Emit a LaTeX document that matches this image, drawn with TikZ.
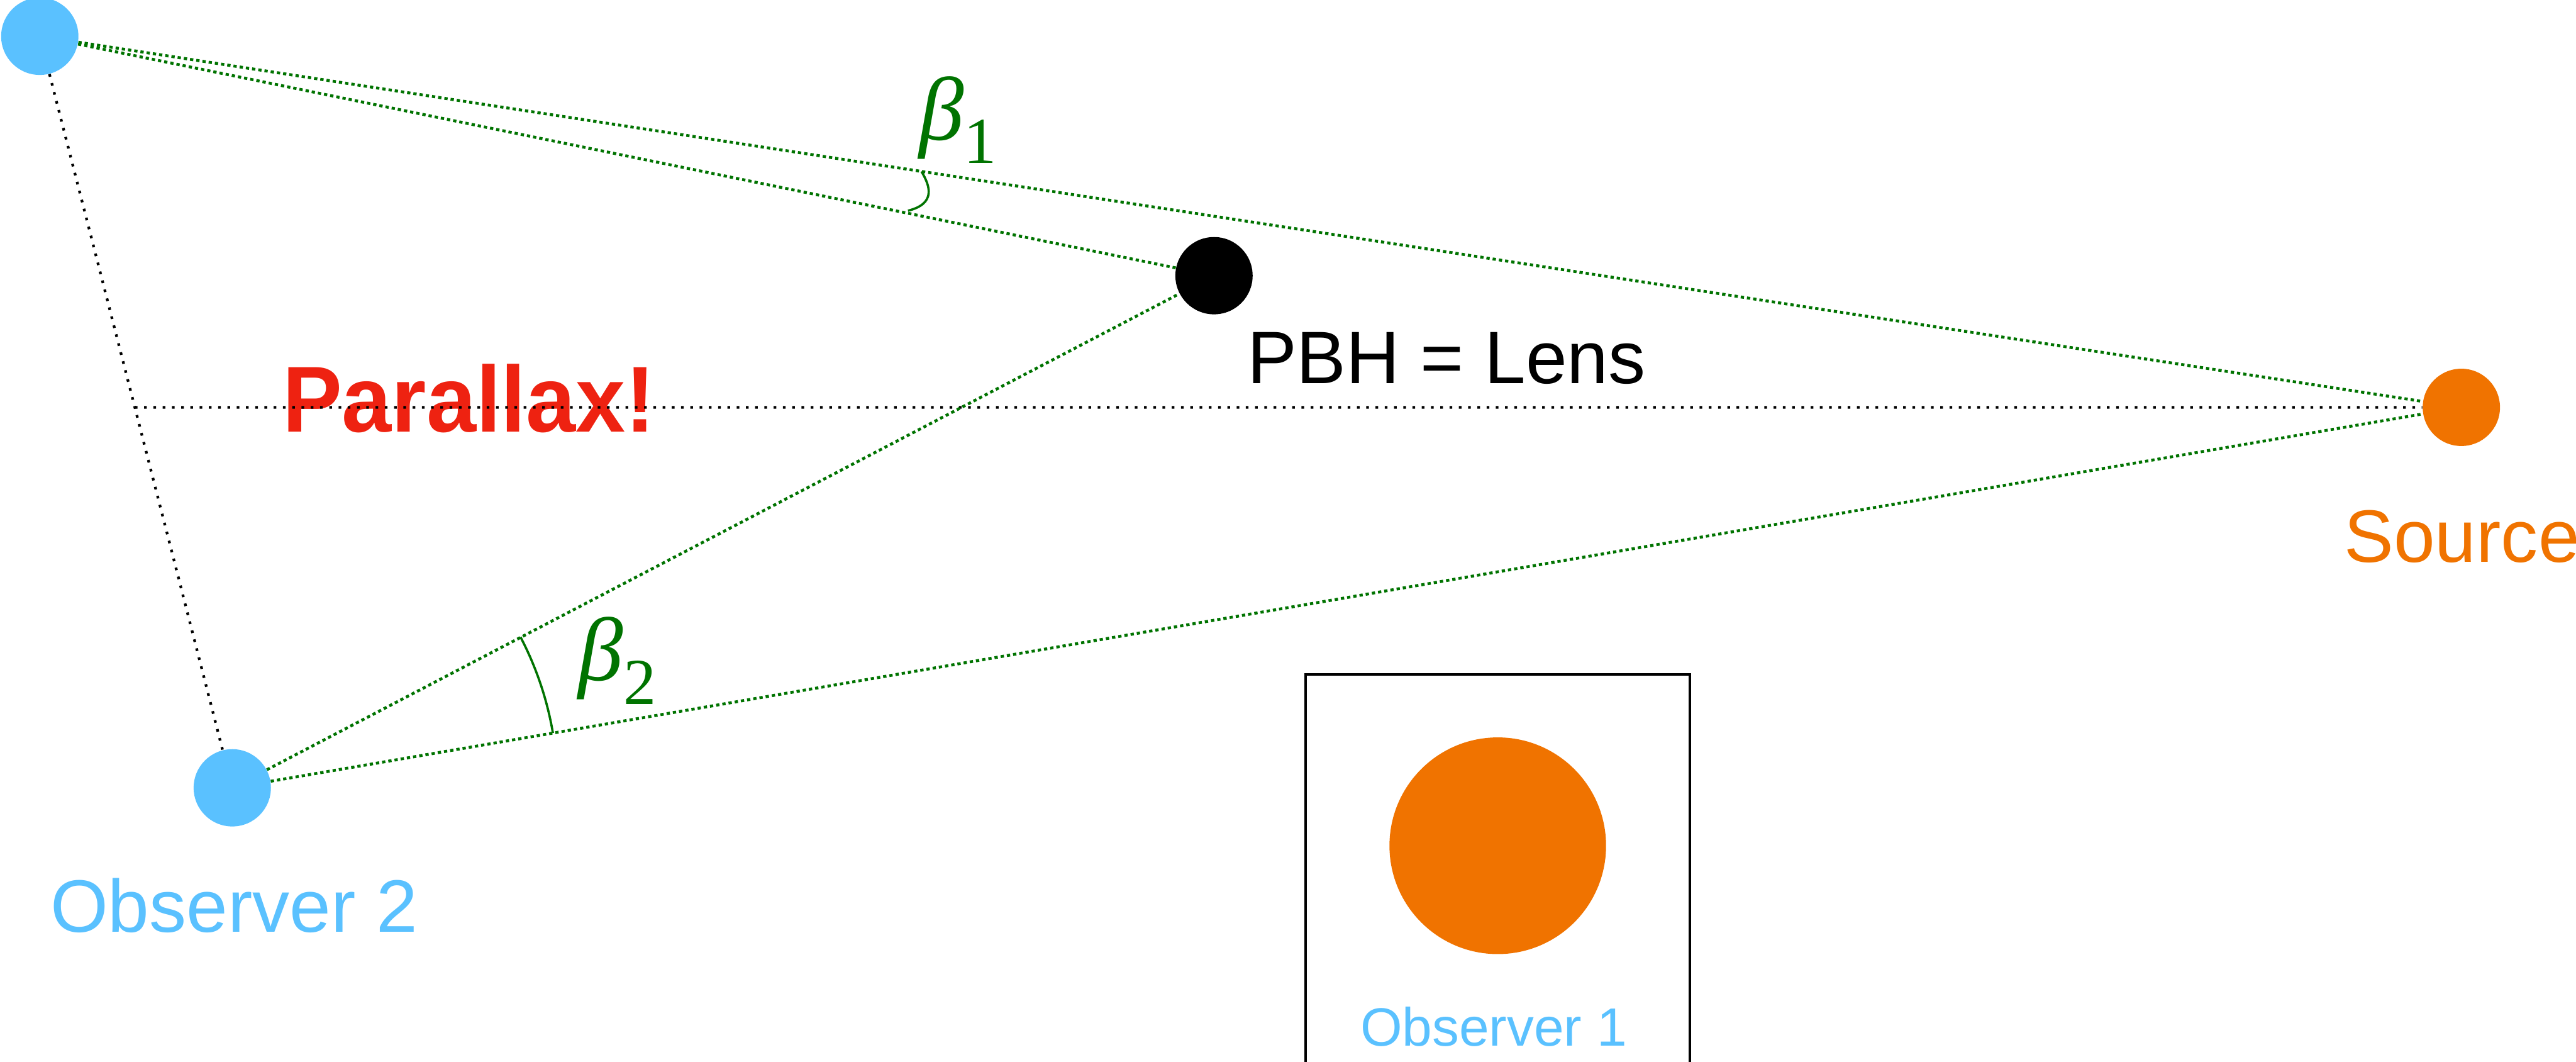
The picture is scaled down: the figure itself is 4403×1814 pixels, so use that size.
\documentclass[tikz,border=0pt]{standalone}
\usepackage{fontspec}
\usepackage{graphicx}
\setmainfont{Liberation Sans}
\newfontfamily\tnr{Liberation Serif}
\usetikzlibrary{calc}
\definecolor{obsblue}{RGB}{90,193,255}
\definecolor{srcorange}{RGB}{240,115,0}
\definecolor{lgreen}{RGB}{0,115,0}
\definecolor{plxred}{RGB}{238,34,17}
\newcommand{\betalab}[1]{{\tnr\itshape\fontsize{43.8}{48}\selectfont β}{\tnr\fontsize{31.9}{35}\selectfont\raisebox{-0.4cm}{#1}}}
\begin{document}
\begin{tikzpicture}[x=0.01cm,y=-0.01cm,
  body/.style={circle,inner sep=0pt,minimum size=1.32cm},
  greendot/.style={draw=lgreen,line width=1.4pt,dash pattern=on 1.6pt off 1.45pt},
  blackdot/.style={draw=black,line width=1.3pt,dash pattern=on 1.3pt off 3.2pt},
  anglearc/.style={draw=lgreen,line width=1.1pt},
  lbl/.style={inner sep=0pt,font=\fontsize{36.1}{40}\selectfont}]
\useasboundingbox (0,0) rectangle (4403,1814);
% bodies
\node[body,fill=obsblue] (o1) at (68,62) {};
\node[body,fill=obsblue] (o2) at (397,1346) {};
\node[body,fill=black] (lens) at (2075,471) {};
\node[body,fill=srcorange] (src) at (4207,696) {};
% labels
\node[lbl,anchor=base west,text=plxred,font=\fontsize{45.5}{50}\selectfont\bfseries] (plx) at (482,738) {\scalebox{0.955}[1]{Parallax!}};
\node[lbl,anchor=base west] (lenslbl) at (2131,655) {PBH = Lens};
\node[lbl,anchor=base,text=srcorange] (srclbl) at (4208,960) {Source};
\node[lbl,anchor=base,text=obsblue] (o2lbl) at (400,1592) {Observer 2};
% lines
\coordinate (mid) at ($(o1.center)!0.4938!(o2.center)$);
\draw[blackdot] (o1) -- (o2);
\draw[blackdot] (mid) -- (src);
\draw[greendot] (o1) -- (src);
\draw[greendot] (o1) -- (lens);
\draw[greendot] (o2) -- (lens);
\draw[greendot] (o2) -- (src);
% angles
\coordinate (a1s) at (1575,293);
\coordinate (a1e) at (1552,360);
\draw[anglearc] (a1s) .. controls (1590,318) and (1600,348) .. (a1e);
\draw[anglearc] ([shift={(-27.6:556)}]o2.center) arc[start angle=-27.6,end angle=-9.7,radius=556];
\node[anchor=base west,inner sep=0pt,text=lgreen] (b1) at (1570,239) {\betalab{1}};
\node[anchor=base west,inner sep=0pt,text=lgreen] (b2) at (988,1163) {\betalab{2}};
% observer 1 view
\draw[line width=1.2pt] (2232,1830) -- (2232,1152) -- (2888,1152) -- (2888,1830);
\node[circle,inner sep=0pt,minimum size=3.7cm,fill=srcorange] (img) at (2560,1445) {};
\node[anchor=base,inner sep=0pt,text=obsblue,font=\fontsize{26.2}{30}\selectfont] (o1lbl) at (2553,1787) {Observer 1};
\end{tikzpicture}
\end{document}
